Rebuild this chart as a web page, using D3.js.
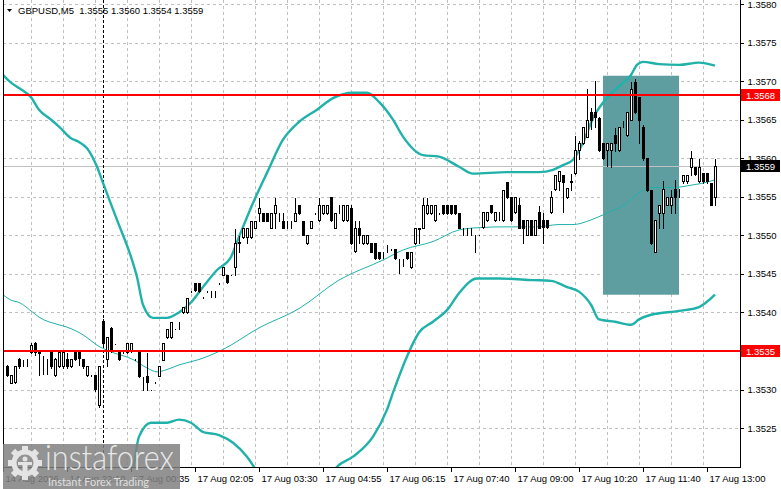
<!DOCTYPE html>
<html>
<head>
<meta charset="utf-8">
<script src="https://d3js.org/d3.v7.min.js"></script>
<style>
  html, body { margin: 0; padding: 0; background: #fff; overflow: hidden; }
  svg { display: block; }
  text { font-family: "Liberation Sans", Arial, sans-serif; }
</style>
</head>
<body>
<script>
// GBPUSD M5 candles, bar 0 = leftmost visible bar
var openPrices = [
  1.35330,1.35309,1.35310,1.35340,1.35340,1.35340,1.35349,1.35361,1.35349,1.35340,
  1.35340,1.35349,1.35319,1.35330,1.35330,1.35340,1.35330,1.35349,1.35349,1.35340,
  1.35319,1.35319,1.35319,1.35280,1.35389,1.35340,1.35380,1.35360,1.35349,1.35349,
  1.35349,1.35350,1.35340,1.35349,1.35318,1.35318,1.35300,1.35310,1.35318,1.35339,
  1.35368,1.35368,1.35379,1.35388,1.35400,1.35400,1.35428,1.35438,1.35438,1.35420,
  1.35428,1.35428,1.35428,1.35438,1.35449,1.35449,1.35449,1.35459,1.35490,1.35498,
  1.35498,1.35498,1.35510,1.35529,1.35529,1.35529,1.35510,1.35529,1.35529,1.35519,
  1.35519,1.35519,1.35519,1.35540,1.35519,1.35490,1.35510,1.35529,1.35520,1.35529,
  1.35529,1.35550,1.35510,1.35540,1.35520,1.35520,1.35535,1.35480,1.35510,1.35490,
  1.35490,1.35490,1.35490,1.35479,1.35479,1.35488,1.35482,1.35482,1.35470,1.35470,
  1.35479,1.35459,1.35490,1.35509,1.35510,1.35529,1.35529,1.35520,1.35529,1.35540,
  1.35540,1.35540,1.35540,1.35529,1.35510,1.35510,1.35510,1.35501,1.35501,1.35511,
  1.35520,1.35540,1.35520,1.35530,1.35520,1.35569,1.35550,1.35530,1.35540,1.35520,
  1.35501,1.35520,1.35501,1.35530,1.35520,1.35520,1.35530,1.35560,1.35570,1.35578,
  1.35550,1.35569,1.35581,1.35611,1.35620,1.35628,1.35660,1.35660,1.35652,1.35620,
  1.35611,1.35611,1.35630,1.35611,1.35641,1.35630,1.35650,1.35699,1.35679,1.35641,
  1.35600,1.35559,1.35479,1.35529,1.35529,1.35540,1.35540,1.35560,1.35560,1.35570,
  1.35570,1.35589,1.35589,1.35570,1.35581,1.35581,1.35568,1.35550
];
var highPrices = [
  1.35333,1.35320,1.35332,1.35342,1.35340,1.35341,1.35362,1.35363,1.35350,1.35345,
  1.35341,1.35350,1.35342,1.35352,1.35350,1.35349,1.35341,1.35350,1.35350,1.35341,
  1.35331,1.35320,1.35320,1.35332,1.35393,1.35370,1.35382,1.35361,1.35350,1.35350,
  1.35362,1.35362,1.35341,1.35350,1.35318,1.35349,1.35301,1.35311,1.35331,1.35362,
  1.35380,1.35389,1.35380,1.35389,1.35408,1.35420,1.35429,1.35439,1.35439,1.35421,
  1.35429,1.35429,1.35429,1.35439,1.35460,1.35450,1.35450,1.35510,1.35501,1.35510,
  1.35510,1.35520,1.35520,1.35550,1.35530,1.35530,1.35530,1.35550,1.35530,1.35530,
  1.35520,1.35520,1.35550,1.35541,1.35520,1.35502,1.35520,1.35530,1.35550,1.35541,
  1.35541,1.35551,1.35530,1.35541,1.35541,1.35541,1.35541,1.35520,1.35520,1.35502,
  1.35502,1.35491,1.35491,1.35480,1.35480,1.35489,1.35483,1.35483,1.35470,1.35470,
  1.35480,1.35480,1.35510,1.35510,1.35550,1.35550,1.35541,1.35541,1.35530,1.35541,
  1.35541,1.35541,1.35541,1.35530,1.35511,1.35511,1.35511,1.35502,1.35502,1.35531,
  1.35531,1.35541,1.35531,1.35531,1.35560,1.35570,1.35551,1.35551,1.35550,1.35521,
  1.35521,1.35521,1.35521,1.35540,1.35530,1.35521,1.35559,1.35580,1.35585,1.35580,
  1.35562,1.35581,1.35630,1.35624,1.35641,1.35691,1.35667,1.35702,1.35655,1.35621,
  1.35621,1.35621,1.35640,1.35642,1.35650,1.35661,1.35700,1.35704,1.35680,1.35645,
  1.35601,1.35560,1.35520,1.35540,1.35572,1.35551,1.35560,1.35573,1.35562,1.35580,
  1.35580,1.35611,1.35590,1.35600,1.35582,1.35582,1.35569,1.35600
];
var lowPrices = [
  1.35318,1.35308,1.35309,1.35328,1.35330,1.35330,1.35348,1.35345,1.35319,1.35320,
  1.35320,1.35328,1.35318,1.35329,1.35328,1.35328,1.35329,1.35339,1.35332,1.35328,
  1.35318,1.35318,1.35298,1.35278,1.35358,1.35331,1.35349,1.35359,1.35339,1.35348,
  1.35348,1.35349,1.35339,1.35316,1.35300,1.35300,1.35299,1.35309,1.35317,1.35338,
  1.35367,1.35367,1.35378,1.35379,1.35399,1.35399,1.35427,1.35428,1.35427,1.35419,
  1.35427,1.35420,1.35420,1.35437,1.35448,1.35438,1.35448,1.35449,1.35479,1.35497,
  1.35490,1.35497,1.35509,1.35518,1.35518,1.35518,1.35509,1.35510,1.35519,1.35509,
  1.35510,1.35510,1.35518,1.35528,1.35500,1.35489,1.35509,1.35528,1.35519,1.35528,
  1.35528,1.35519,1.35509,1.35529,1.35519,1.35519,1.35489,1.35479,1.35490,1.35489,
  1.35489,1.35478,1.35469,1.35469,1.35470,1.35479,1.35481,1.35469,1.35451,1.35460,
  1.35469,1.35458,1.35489,1.35490,1.35509,1.35528,1.35528,1.35519,1.35528,1.35528,
  1.35528,1.35528,1.35528,1.35509,1.35501,1.35500,1.35501,1.35479,1.35500,1.35510,
  1.35519,1.35529,1.35519,1.35520,1.35519,1.35549,1.35519,1.35529,1.35509,1.35490,
  1.35500,1.35500,1.35500,1.35509,1.35490,1.35509,1.35529,1.35559,1.35559,1.35530,
  1.35549,1.35559,1.35580,1.35599,1.35619,1.35627,1.35638,1.35640,1.35610,1.35599,
  1.35590,1.35589,1.35610,1.35610,1.35640,1.35629,1.35649,1.35659,1.35620,1.35598,
  1.35558,1.35489,1.35478,1.35510,1.35510,1.35539,1.35529,1.35529,1.35550,1.35568,
  1.35568,1.35578,1.35578,1.35569,1.35568,1.35568,1.35539,1.35540
];
var closePrices = [
  1.35319,1.35319,1.35330,1.35330,1.35340,1.35340,1.35358,1.35349,1.35348,1.35340,
  1.35340,1.35330,1.35340,1.35349,1.35349,1.35330,1.35340,1.35340,1.35341,1.35330,
  1.35330,1.35319,1.35301,1.35330,1.35361,1.35368,1.35350,1.35360,1.35340,1.35349,
  1.35360,1.35360,1.35340,1.35318,1.35318,1.35310,1.35300,1.35310,1.35330,1.35360,
  1.35379,1.35388,1.35379,1.35388,1.35407,1.35419,1.35428,1.35429,1.35428,1.35420,
  1.35428,1.35428,1.35428,1.35438,1.35459,1.35439,1.35449,1.35490,1.35491,1.35510,
  1.35510,1.35519,1.35519,1.35536,1.35519,1.35519,1.35529,1.35540,1.35529,1.35510,
  1.35519,1.35518,1.35529,1.35529,1.35501,1.35501,1.35519,1.35529,1.35540,1.35540,
  1.35540,1.35520,1.35529,1.35540,1.35540,1.35540,1.35490,1.35510,1.35501,1.35501,
  1.35501,1.35479,1.35470,1.35470,1.35479,1.35488,1.35482,1.35470,1.35470,1.35470,
  1.35470,1.35479,1.35509,1.35508,1.35540,1.35540,1.35540,1.35540,1.35529,1.35529,
  1.35529,1.35529,1.35529,1.35510,1.35510,1.35510,1.35510,1.35501,1.35501,1.35530,
  1.35530,1.35530,1.35530,1.35530,1.35559,1.35550,1.35520,1.35550,1.35510,1.35510,
  1.35520,1.35501,1.35520,1.35510,1.35511,1.35511,1.35550,1.35578,1.35583,1.35569,
  1.35561,1.35570,1.35611,1.35620,1.35640,1.35650,1.35650,1.35653,1.35611,1.35600,
  1.35620,1.35620,1.35620,1.35640,1.35641,1.35660,1.35690,1.35660,1.35650,1.35600,
  1.35559,1.35490,1.35520,1.35540,1.35560,1.35550,1.35550,1.35550,1.35560,1.35578,
  1.35578,1.35600,1.35579,1.35589,1.35570,1.35570,1.35540,1.35590
];

// Bollinger bands: [bar, price]
var upperBand = [
  [-1,1.35708],[1,1.35698],[3,1.35691],[6,1.35679],[8,1.35663],[11,1.35650],[13,1.35641],
  [16,1.35626],[18,1.35621],[20,1.35613],[22.5,1.35589],[24,1.35568],[27.5,1.35520],
  [31,1.35472],[32.5,1.35446],[34,1.35410],[36.5,1.35393],[40,1.35393],[43,1.35400],
  [46,1.35413],[49,1.35433],[52.5,1.35455],[56,1.35472],[58,1.35498],[61.5,1.35542],
  [65,1.35581],[69,1.35624],[73,1.35647],[77.5,1.35663],[81.5,1.35678],[86.5,1.35685],
  [90,1.35685],[93,1.35673],[96.5,1.35650],[99,1.35628],[104,1.35604],[108,1.35602],
  [113,1.35589],[116.5,1.35580],[125,1.35582],[133,1.35582],[136.5,1.35585],[139,1.35591],
  [141.5,1.35598],[144,1.35620],[146.5,1.35652],[149,1.35672],[152.5,1.35691],[156,1.35708],
  [157.5,1.35721],[159,1.35725],[163,1.35722],[168,1.35721],[173,1.35724],[177,1.35720]
];
var middleBand = [
  [-1,1.35423],[1,1.35416],[3,1.35413],[6.5,1.35400],[8,1.35394],[13,1.35384],[15,1.35381],
  [19,1.35371],[23,1.35356],[26.5,1.35348],[31.5,1.35339],[35,1.35328],[37.5,1.35323],
  [40,1.35326],[43,1.35332],[48,1.35339],[54,1.35352],[63,1.35380],[73,1.35405],
  [83,1.35442],[94,1.35468],[99,1.35481],[106.5,1.35492],[113,1.35507],[118,1.35510],
  [124,1.35511],[132.5,1.35511],[138,1.35514],[141.5,1.35514],[146,1.35520],[150,1.35529],
  [155,1.35542],[158,1.35555],[161,1.35562],[166.5,1.35562],[171,1.35565],[175,1.35569],
  [177,1.35572]
];
var lowerBand = [
  [29,1.35150],[31.5,1.35196],[33,1.35239],[36,1.35257],[40,1.35257],[43,1.35261],
  [46,1.35257],[49,1.35245],[53,1.35241],[56.5,1.35231],[60,1.35213],[63,1.35190],
  [67,1.35164],[73,1.35151],[78,1.35164],[82.5,1.35200],[86.5,1.35213],[91.5,1.35239],
  [95,1.35274],[96.5,1.35296],[100,1.35343],[103,1.35374],[106.5,1.35388],[110,1.35403],
  [113,1.35425],[117.5,1.35444],[123,1.35444],[131.5,1.35442],[136,1.35441],[140,1.35433],
  [143,1.35427],[146,1.35410],[148,1.35391],[152,1.35388],[156,1.35384],[158,1.35391],
  [161,1.35397],[168,1.35402],[173,1.35407],[177,1.35423]
];

var levelPrices = [1.35682, 1.35350];
var levelLabels = ["1.3568", "1.3535"];
var bidPrice = 1.35590;
var bidLabel = "1.3559";
var zoneBars = [149, 168];
var zonePrices = [1.35707, 1.35423];
var separatorBar = 24;

var priceTicks = [1.3525, 1.3530, 1.3535, 1.3540, 1.3545, 1.3550, 1.3555, 1.3560, 1.3565, 1.3570, 1.3575, 1.3580];
var timeTickBars = [-1, 15, 31, 47, 63, 79, 95, 111, 127, 143, 159, 175];
var timeLabels = ["14 Aug 2026", "14 Aug 22:10", "17 Aug 00:35", "17 Aug 02:05", "17 Aug 03:30",
  "17 Aug 04:55", "17 Aug 06:15", "17 Aug 07:40", "17 Aug 09:00", "17 Aug 10:20",
  "17 Aug 11:40", "17 Aug 13:00"];
var titleText = "GBPUSD,M5  1.3555 1.3560 1.3554 1.3559";

var width = 781, height = 489;
var plotLeft = 3, plotRight = 740, plotBottom = 467;
var bandColor = "#20b2aa";

var x = d3.scaleLinear().domain([0, 177]).range([7, 715]);
var y = d3.scaleLinear().domain([1.3520, 1.3580]).range([466.7, 4]);
var px = function(v) { return Math.round(v) + 0.5; };

var svg = d3.select("body").append("svg")
  .attr("width", width)
  .attr("height", height);

svg.append("rect").attr("width", width).attr("height", height).attr("fill", "#fff");

svg.append("defs").append("clipPath").attr("id", "plotClip")
  .append("rect")
  .attr("x", plotLeft + 1).attr("y", 0)
  .attr("width", plotRight - plotLeft - 1).attr("height", plotBottom);

// grid
var grid = svg.append("g").attr("stroke", "#c0c0c0").attr("stroke-dasharray", "3,3")
  .attr("shape-rendering", "crispEdges");
grid.selectAll("line.h").data(priceTicks).enter().append("line")
  .attr("x1", plotLeft).attr("x2", plotRight)
  .attr("y1", function(d) { return px(y(d)); })
  .attr("y2", function(d) { return px(y(d)); });
grid.selectAll("line.v").data(d3.range(7, 177, 8)).enter().append("line")
  .attr("x1", function(d) { return px(x(d)) - 4; })
  .attr("x2", function(d) { return px(x(d)) - 4; })
  .attr("y1", 0).attr("y2", plotBottom);

var plot = svg.append("g").attr("clip-path", "url(#plotClip)");

// highlighted zone
plot.append("rect")
  .attr("x", x(zoneBars[0]))
  .attr("y", y(zonePrices[0]))
  .attr("width", x(zoneBars[1]) - x(zoneBars[0]))
  .attr("height", y(zonePrices[1]) - y(zonePrices[0]))
  .attr("fill", "#5f9ea0");

// bid line
plot.append("line")
  .attr("x1", plotLeft).attr("x2", plotRight)
  .attr("y1", px(y(bidPrice))).attr("y2", px(y(bidPrice)))
  .attr("stroke", "#c0c0c0").attr("shape-rendering", "crispEdges");

// day separator
plot.append("line")
  .attr("x1", px(x(separatorBar))).attr("x2", px(x(separatorBar)))
  .attr("y1", 0).attr("y2", plotBottom)
  .attr("stroke", "#000").attr("stroke-dasharray", "3,2")
  .attr("shape-rendering", "crispEdges");

// bands
var bandLine = d3.line()
  .x(function(d) { return x(d[0]); })
  .y(function(d) { return y(d[1]); })
  .curve(d3.curveMonotoneX);
plot.append("path").datum(upperBand).attr("d", bandLine)
  .attr("fill", "none").attr("stroke", bandColor).attr("stroke-width", 2.4);
plot.append("path").datum(lowerBand).attr("d", bandLine)
  .attr("fill", "none").attr("stroke", bandColor).attr("stroke-width", 2.4);
plot.append("path").datum(middleBand).attr("d", bandLine)
  .attr("fill", "none").attr("stroke", bandColor).attr("stroke-width", 1);

// candles
var bars = d3.range(openPrices.length);
var candles = plot.append("g").attr("shape-rendering", "crispEdges");
var c = candles.selectAll("g").data(bars).enter().append("g");
c.append("line")
  .attr("x1", function(i) { return px(x(i)); })
  .attr("x2", function(i) { return px(x(i)); })
  .attr("y1", function(i) { return px(y(highPrices[i])); })
  .attr("y2", function(i) { return px(y(lowPrices[i])) + 0.5; })
  .attr("stroke", "#000");
c.append("rect")
  .attr("x", function(i) { return px(x(i)) - 1; })
  .attr("width", 2)
  .attr("y", function(i) { return px(y(Math.max(openPrices[i], closePrices[i]))); })
  .attr("height", function(i) {
    return px(y(Math.min(openPrices[i], closePrices[i]))) - px(y(Math.max(openPrices[i], closePrices[i])));
  })
  .attr("fill", function(i) { return closePrices[i] > openPrices[i] ? "#fff" : "#000"; })
  .attr("stroke", "#000");

// support / resistance levels
plot.selectAll("line.level").data(levelPrices).enter().append("line")
  .attr("x1", plotLeft).attr("x2", plotRight)
  .attr("y1", function(d) { return y(d); })
  .attr("y2", function(d) { return y(d); })
  .attr("stroke", "#ff0000").attr("stroke-width", 2);

// frame
var frame = svg.append("g").attr("stroke", "#000").attr("shape-rendering", "crispEdges");
frame.append("line").attr("x1", plotLeft + 0.5).attr("x2", plotLeft + 0.5).attr("y1", 0).attr("y2", plotBottom);
frame.append("line").attr("x1", plotLeft).attr("x2", plotRight).attr("y1", plotBottom + 0.5).attr("y2", plotBottom + 0.5);
frame.append("line").attr("x1", plotRight + 0.5).attr("x2", plotRight + 0.5).attr("y1", 0).attr("y2", plotBottom + 1);

// price axis
var yAxis = d3.axisRight(y).tickValues(priceTicks).tickSize(3).tickPadding(4)
  .tickFormat(d3.format(".4f"));
var yG = svg.append("g").attr("transform", "translate(" + (plotRight + 0.5) + ",0)").call(yAxis);
yG.select(".domain").remove();
yG.selectAll("text").attr("font-size", "9.5px").attr("font-family", "Liberation Sans, Arial, sans-serif").attr("fill", "#000");
yG.selectAll("line").attr("shape-rendering", "crispEdges");

// time axis
var xAxis = d3.axisBottom(x).tickValues(timeTickBars).tickSize(4).tickPadding(4)
  .tickFormat(function(d, i) { return timeLabels[i]; });
var xG = svg.append("g").attr("transform", "translate(0," + (plotBottom + 0.5) + ")").call(xAxis);
xG.select(".domain").remove();
xG.selectAll("text").attr("font-size", "9.5px").attr("font-family", "Liberation Sans, Arial, sans-serif")
  .attr("text-anchor", "start").attr("dx", 2).attr("fill", "#000");
xG.selectAll("line").attr("shape-rendering", "crispEdges");

// price labels on the axis
function priceTag(price, label, fill) {
  var cy = Math.round(y(price));
  svg.append("rect").attr("x", plotRight + 1).attr("y", cy - 6).attr("width", 39).attr("height", 12).attr("fill", fill);
  svg.append("text").attr("x", plotRight + 6).attr("y", cy + 3.5).attr("font-size", "9.5px")
    .attr("fill", "#fff").text(label);
}
priceTag(levelPrices[0], levelLabels[0], "#ff0000");
priceTag(levelPrices[1], levelLabels[1], "#ff0000");
priceTag(bidPrice, bidLabel, "#000");

// title
svg.append("path").attr("d", "M7,9 L12,9 L9.5,12 Z").attr("fill", "#000");
svg.append("text").attr("x", 18).attr("y", 14).attr("font-size", "9.5px")
  .style("white-space", "pre").attr("fill", "#000").text(titleText);

// watermark
var wm = svg.append("g");
wm.append("rect").attr("x", 3).attr("y", 444).attr("width", 177).attr("height", 45)
  .attr("fill", "#808080").attr("opacity", 0.85);
var gear = wm.append("g").attr("transform", "translate(25,463)").attr("fill", "#e4e4e4");
gear.append("circle").attr("r", 11).attr("fill", "none").attr("stroke", "#e4e4e4").attr("stroke-width", 5);
gear.selectAll("rect").data(d3.range(8)).enter().append("rect")
  .attr("x", -3).attr("y", -17).attr("width", 6).attr("height", 6)
  .attr("transform", function(d) { return "rotate(" + (d * 45) + ")"; });
gear.append("circle").attr("cx", 0).attr("cy", -4).attr("r", 2.5);
gear.append("rect").attr("x", -2.5).attr("y", 0).attr("width", 5).attr("height", 9);
gear.append("rect").attr("x", -7).attr("y", -1).attr("width", 14).attr("height", 3);
wm.append("text").attr("x", 45).attr("y", 470).attr("font-size", "35px")
  .style("font-family", "Lato, 'Open Sans', sans-serif").style("font-weight", 300)
  .attr("textLength", 129).attr("lengthAdjust", "spacingAndGlyphs")
  .attr("fill", "#e8e8e8").text("instaforex");
wm.append("text").attr("x", 48).attr("y", 486).attr("font-size", "12px")
  .style("font-family", "Lato, 'Open Sans', sans-serif")
  .attr("textLength", 101).attr("lengthAdjust", "spacingAndGlyphs")
  .attr("fill", "#e0e0e0").text("Instant Forex Trading");
</script>
</body>
</html>
